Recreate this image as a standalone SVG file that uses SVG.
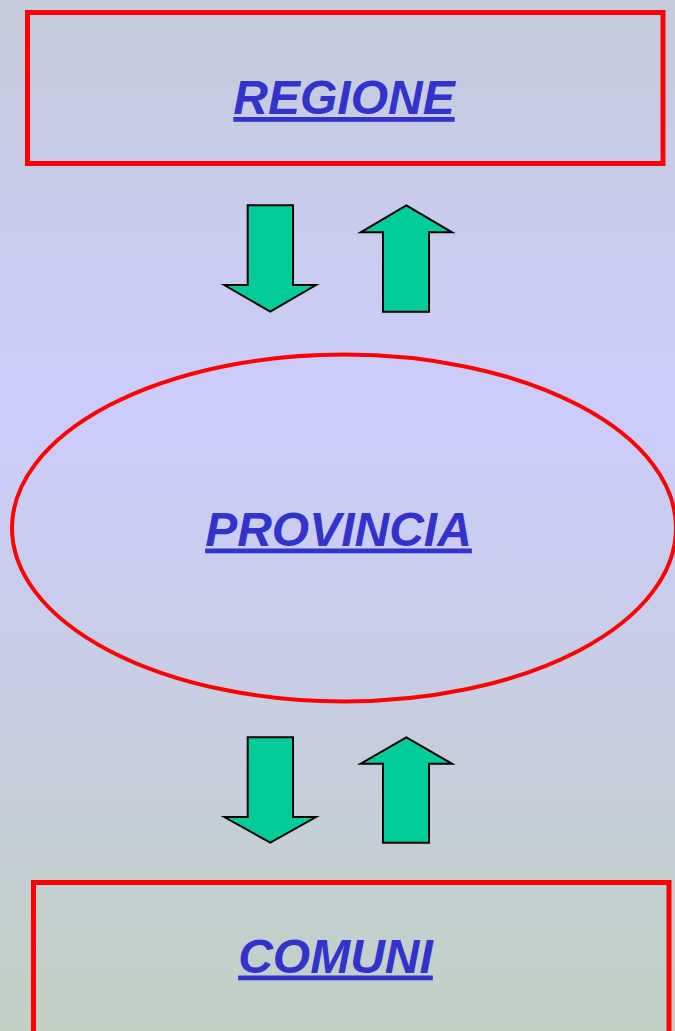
<svg xmlns="http://www.w3.org/2000/svg" width="675" height="1031" viewBox="0 0 675 1031">
  <defs>
    <linearGradient id="bg" x1="0" y1="0" x2="0" y2="1">
      <stop offset="0" stop-color="#c5ccda"/>
      <stop offset="0.4" stop-color="#ccccfc"/>
      <stop offset="1" stop-color="#c2d0c4"/>
    </linearGradient>
  </defs>
  <style>
    .box { fill: none; stroke: #ff0000; stroke-width: 5; }
    .oval { fill: none; stroke: #ff0000; stroke-width: 4; }
    .lbl { font-family: "Liberation Sans", Arial, sans-serif; font-size: 48px; font-weight: bold; font-style: italic; fill: #3333cc; text-anchor: middle; text-decoration: underline; }
    .arr { fill: #00cc99; stroke: #000000; stroke-width: 2; stroke-linejoin: miter; }
  </style>
  <rect x="0" y="0" width="675" height="1031" fill="url(#bg)"/>
  <g id="regione">
    <rect class="box" x="27.5" y="12.5" width="635.5" height="151"/>
    <text class="lbl" x="344" y="114">REGIONE</text>
  </g>
  <g id="provincia">
    <ellipse class="oval" cx="344" cy="528" rx="332" ry="173.5"/>
    <text class="lbl" x="338.5" y="545.5">PROVINCIA</text>
  </g>
  <g id="comuni">
    <rect class="box" x="33.5" y="882.5" width="635.5" height="160"/>
    <text class="lbl" x="335.5" y="972.5">COMUNI</text>
  </g>
  <g id="connectors">
    <polygon class="arr" points="247.7,205.3 293,205.3 293,285 316,285 270.3,311.7 224.3,285 247.7,285"/>
    <polygon class="arr" points="406.3,205.3 452,232.3 429,232.3 429,311.7 383,311.7 383,232.3 360.7,232.3"/>
    <polygon class="arr" points="247.7,737.3 293,737.3 293,817 316,817 270.3,842.7 224.3,817 247.7,817"/>
    <polygon class="arr" points="406.3,737.3 452,763.7 429,763.7 429,842.7 383,842.7 383,763.7 360.7,763.7"/>
  </g>
</svg>
